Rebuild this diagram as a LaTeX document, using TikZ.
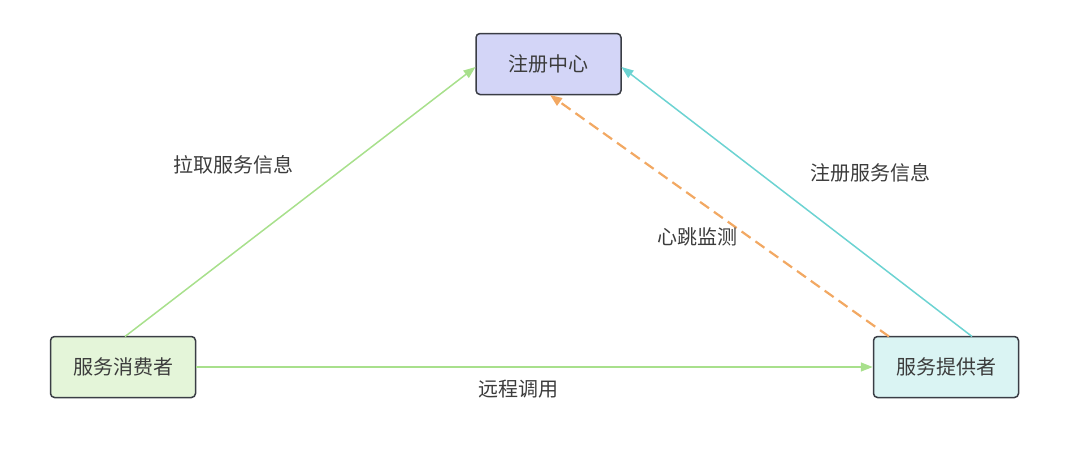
\documentclass[tikz,border=0pt]{standalone}
\usepackage{fontspec}
\setmainfont{Noto Sans CJK SC}
\usetikzlibrary{arrows.meta}
\definecolor{regfill}{HTML}{D3D5F7}
\definecolor{confill}{HTML}{E4F5D9}
\definecolor{profill}{HTML}{DAF4F3}
\definecolor{boxline}{HTML}{3A3D45}
\definecolor{greenline}{HTML}{A8E08C}
\definecolor{cyanline}{HTML}{6CD3D2}
\definecolor{orangeline}{HTML}{F2A862}
\definecolor{txt}{HTML}{3C3C3C}
\begin{document}
\begin{tikzpicture}[x=1pt,y=-1pt,
  box/.style={draw=boxline,line width=1.5pt,rounded corners=4pt,minimum width=145pt,minimum height=61pt,inner sep=0pt,font=\fontsize{20}{22}\selectfont,text=txt},
  lbl/.style={font=\fontsize{20}{22}\selectfont,text=txt},
  arr/.style={line width=1.5pt,-{Triangle[length=12pt,width=9pt]}}]
\useasboundingbox (0,0) rectangle (1082,456);
\node[box,fill=regfill] (reg) at (548.5,64) {注册中心};
\node[box,fill=confill] (con) at (123,367) {服务消费者};
\node[box,fill=profill] (pro) at (946,367) {服务提供者};
\coordinate (conTop) at (125,336.5);
\coordinate (regL) at (475.5,67);
\coordinate (proTopR) at (972,336.5);
\coordinate (regR) at (621.5,67);
\coordinate (proTopL) at (889,336.5);
\coordinate (regB) at (550,95);
\draw[arr,greenline] (conTop) -- (regL);
\draw[arr,cyanline] (proTopR) -- (regR);
\draw[arr,orangeline,line width=2.2pt,dash pattern=on 11pt off 6pt] (proTopL) -- (regB);
\draw[arr,greenline] (con.east) -- (pro.west);
\node[lbl] (l1) at (233,165) {拉取服务信息};
\node[lbl] (l2) at (870,173) {注册服务信息};
\node[lbl] (l3) at (697,237) {心跳监测};
\node[lbl] (l4) at (518,389) {远程调用};
\end{tikzpicture}
\end{document}
